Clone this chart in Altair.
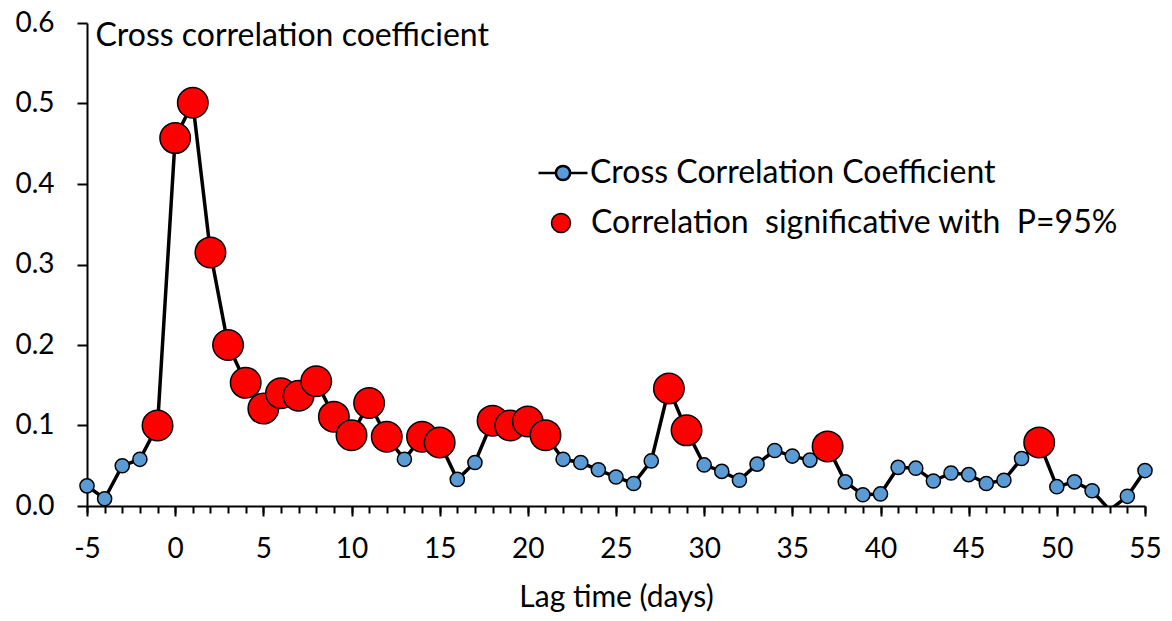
import altair as alt
import pandas as pd

lags = list(range(-5, 56))
cc = [0.025, 0.009, 0.050, 0.058, 0.100, 0.457, 0.501, 0.315, 0.200, 0.153,
      0.121, 0.140, 0.137, 0.155, 0.111, 0.088, 0.128, 0.086, 0.058, 0.086,
      0.079, 0.033, 0.054, 0.106, 0.100, 0.105, 0.088, 0.058, 0.054, 0.045,
      0.036, 0.028, 0.056, 0.146, 0.094, 0.051, 0.043, 0.032, 0.052, 0.069,
      0.062, 0.057, 0.074, 0.030, 0.014, 0.015, 0.048, 0.047, 0.031, 0.041,
      0.039, 0.028, 0.032, 0.059, 0.079, 0.024, 0.030, 0.019, -0.005, 0.012,
      0.044]
significant_lags = [-1, 0, 1, 2, 3, 4, 5, 6, 7, 8, 9, 10, 11, 12, 14, 15,
                    18, 19, 20, 21, 28, 29, 37, 49]
major_ticks = list(range(-5, 56, 5))
y_ticks = [0, 0.1, 0.2, 0.3, 0.4, 0.5, 0.6]

S1 = "Cross Correlation Coefficient"
S2 = "Correlation\u00a0 significative with\u00a0 P=95%"

df = pd.DataFrame({"lag": lags, "cc": cc})
df["sig"] = df["lag"].isin(significant_lags)
df["s1"] = S1
df["s2"] = S2

FONT = "Lato"
FS_TICK = 28
FS_TEXT = 32

x_scale = alt.Scale(domain=[-5, 55], nice=False, zero=False)

x_major = alt.X("lag:Q", scale=x_scale,
                axis=alt.Axis(orient="bottom", values=major_ticks, title="Lag time (days)",
                              labelExpr="'' + datum.value",
                              labelOverlap=False, labelFlush=False,
                              tickSize=10, labelPadding=19, titlePadding=19,
                              titleFontSize=30))
x_minor = alt.X("lag:Q", scale=x_scale,
                axis=alt.Axis(orient="bottom", values=lags, title=None, labels=False,
                              domain=False, tickSize=7))
y_enc = alt.Y("cc:Q",
              scale=alt.Scale(domain=[0, 0.6], nice=False, zero=False),
              axis=alt.Axis(values=y_ticks, format=".1f",
                            title="Cross correlation coefficient",
                            titleAngle=0, titleAlign="left", titleBaseline="middle",
                            titleX=8, titleY=12, tickSize=10, labelPadding=23,
                            titleFontSize=FS_TEXT))

line = alt.Chart(df).mark_line(color="black", strokeWidth=3.5, clip=True).encode(
    x=x_major, y=y_enc)

line_sym = ("M-1,0L-0.29,0M0.29,0L1,0M-0.29,0A0.29,0.29 0 1,1 0.29,0"
            "A0.29,0.29 0 1,1 -0.29,0Z")

blue = alt.Chart(df[df["cc"] >= 0]).mark_circle(
    size=200, stroke="black", strokeWidth=1.5, opacity=1
).encode(
    x=x_minor, y=alt.Y("cc:Q"),
    fill=alt.Fill("s1:N", scale=alt.Scale(domain=[S1], range=["#5B9BD5"]),
                  legend=alt.Legend(title=None, orient="none", legendX=450, legendY=124,
                                    symbolType=line_sym, symbolSize=2401,
                                    symbolStrokeColor="black", symbolStrokeWidth=2.5,
                                    symbolFillColor="#5B9BD5", symbolOpacity=1,
                                    labelFontSize=FS_TEXT, labelFont=FONT, labelColor="black",
                                    labelLimit=700, labelOffset=1, padding=0))
)

red = alt.Chart(df[df["sig"]]).mark_circle(
    size=930, stroke="black", strokeWidth=1.5, opacity=1
).encode(
    x=alt.X("lag:Q", axis=None), y=alt.Y("cc:Q"),
    fill=alt.Fill("s2:N", scale=alt.Scale(domain=[S2], range=["#FF0000"]),
                  legend=alt.Legend(title=None, orient="none", legendX=458, legendY=184,
                                    symbolType="circle", symbolSize=361,
                                    symbolStrokeColor="black", symbolStrokeWidth=1.5,
                                    symbolFillColor="#FF0000", symbolOpacity=1,
                                    labelFontSize=FS_TEXT, labelFont=FONT, labelColor="black",
                                    labelLimit=700, labelOffset=14, padding=0))
)

chart = alt.layer(line, blue, red).resolve_scale(fill="independent").resolve_legend(
    fill="independent"
).resolve_axis(x="independent").properties(
    width=1058, height=483,
    autosize=alt.AutoSizeParams(type="none"),
    padding={"left": 79, "top": 15, "right": 17, "bottom": 107},
).configure_view(stroke=None).configure_axis(
    domainColor="black", domainWidth=2, tickColor="black", tickWidth=2,
    labelFont=FONT, labelFontSize=FS_TICK, labelColor="black",
    titleFont=FONT, titleFontSize=FS_TEXT, titleColor="black", titleFontWeight="normal",
    grid=False,
)

chart.save("out.html", embed_options={"renderer": "svg", "actions": False})
